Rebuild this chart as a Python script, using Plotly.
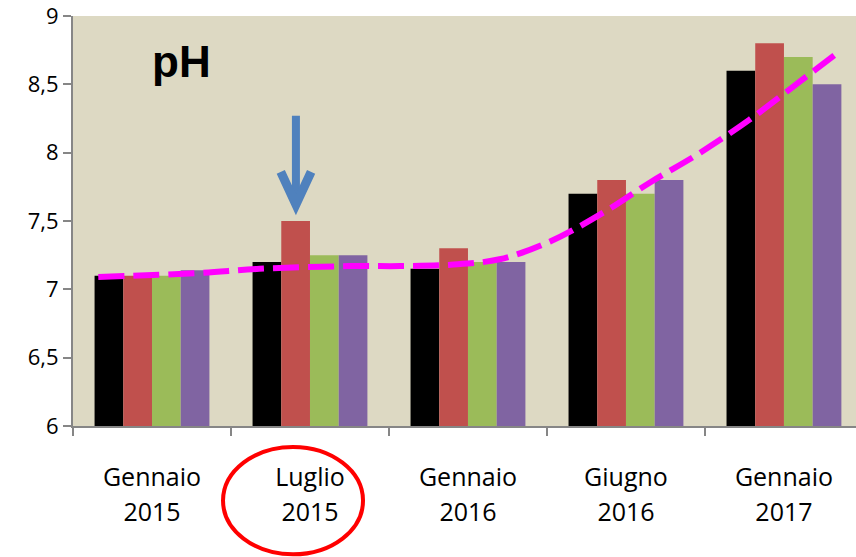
import plotly.graph_objects as go

# data
months = ['Gennaio', 'Luglio', 'Gennaio', 'Giugno', 'Gennaio']
years = ['2015', '2015', '2016', '2016', '2017']
pos = [0, 1, 2, 3, 4]

serie_1 = [7.10, 7.20, 7.15, 7.70, 8.60]
serie_2 = [7.10, 7.50, 7.30, 7.80, 8.80]
serie_3 = [7.10, 7.25, 7.20, 7.70, 8.70]
serie_4 = [7.14, 7.25, 7.20, 7.80, 8.50]

# trend line read point by point
trend_x = [-0.34, 0.30, 0.68, 1.25, 1.57, 1.89, 2.20, 2.52, 2.84, 3.15, 3.47, 3.78, 4.10, 4.35]
trend_y = [7.09, 7.12, 7.15, 7.17, 7.17, 7.18, 7.22, 7.35, 7.55, 7.78, 8.00, 8.24, 8.52, 8.74]

colors = ['#000000', '#C0504D', '#9BBB59', '#8064A2']
xr = [-0.5, 4.456]

fig = go.Figure()
for vals, col in zip([serie_1, serie_2, serie_3, serie_4], colors):
    fig.add_trace(go.Bar(x=pos, y=vals, marker=dict(color=col, line=dict(width=0)),
                         showlegend=False))

fig.add_trace(go.Scatter(x=trend_x, y=trend_y, xaxis='x2', mode='lines',
                         line=dict(color='#FF00FF', width=6, dash='26px,9px', shape='spline'),
                         showlegend=False))

font_x = dict(family='Open Sans', size=25, color='black')
font_y = dict(family='Open Sans', size=22, color='black')

fig.update_layout(
    width=856, height=557,
    margin=dict(l=73, r=0, t=14, b=131),
    paper_bgcolor='white',
    plot_bgcolor='#DDD9C3',
    barmode='group', bargap=0.273, bargroupgap=0,
    separators=', ',
    xaxis=dict(range=xr, tickmode='array', tickvals=pos, ticktext=months,
               ticks='', showgrid=False, zeroline=False,
               showline=True, linecolor='#868686', linewidth=2,
               tickfont=font_x, ticklabelstandoff=28, ticklabeloverflow='allow',
               minor=dict(tickvals=[-0.5, 0.5, 1.5, 2.5, 3.5], ticks='outside',
                          ticklen=8, tickcolor='#868686', tickwidth=2)),
    xaxis2=dict(range=xr, overlaying='x', anchor='y', side='bottom',
                tickmode='array', tickvals=pos, ticktext=years,
                ticks='', showgrid=False, zeroline=False, showline=False,
                tickfont=font_x, ticklabelstandoff=69, ticklabeloverflow='allow'),
    yaxis=dict(range=[6, 9], tickvals=[6, 6.5, 7, 7.5, 8, 8.5, 9],
               ticks='outside', ticklen=8, tickcolor='#868686', tickwidth=2,
               showline=True, linecolor='#868686', linewidth=2,
               showgrid=False, zeroline=False, ticklabeloverflow='allow',
               tickfont=font_y),
)

# pH label
fig.add_annotation(x=0.138, y=0.888, xref='paper', yref='paper', text='<b>pH</b>',
                   xanchor='center', yanchor='middle', showarrow=False,
                   font=dict(family='Liberation Sans', size=44, color='black'))

# blue arrow over the red bar of Luglio 2015
fig.add_shape(type='path', xref='x', yref='y',
              path='M 0.911,8.27 L 0.911,7.64',
              line=dict(color='#4F81BD', width=8))
fig.add_shape(type='path', xref='x', yref='y',
              path='M 0.815,7.86 L 0.911,7.62 L 1.007,7.86',
              line=dict(color='#4F81BD', width=9))

# red ellipse around the Luglio 2015 label
fig.add_shape(type='circle', xref='paper', yref='paper',
              x0=0.1916, x1=0.3704, y0=-0.313, y1=-0.051,
              line=dict(color='#FF0000', width=4))

# drop the default page margin so the figure sits at the window corner
fig.write_html('out.html', config={'displayModeBar': False},
               post_script="document.body.style.margin='0px';")
